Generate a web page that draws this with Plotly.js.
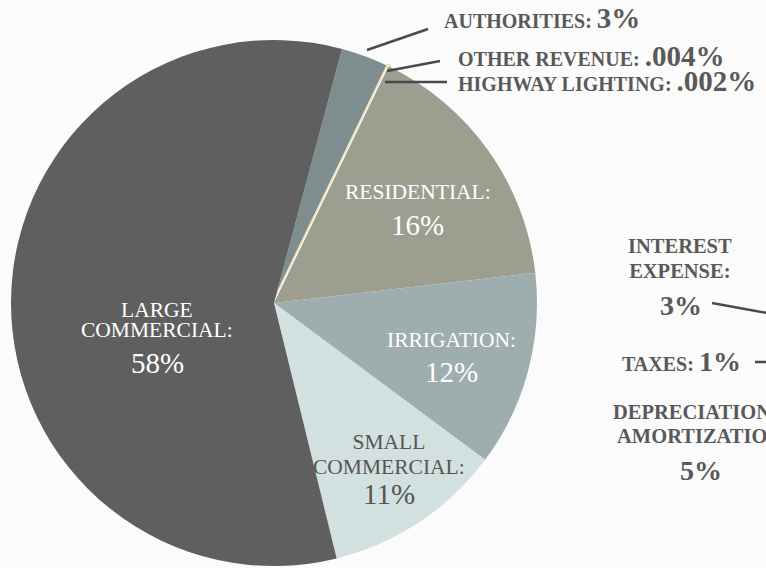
<!DOCTYPE html>
<html>
<head>
<meta charset="utf-8">
<script src="https://cdn.plot.ly/plotly-3.0.1.min.js"></script>
<style>html,body{margin:0;padding:0;background:#fbfbfb;}#chart{width:766px;height:568px;}</style>
</head>
<body>
<div id="chart"></div>
<script>
// Revenue pie (visible)
const revLabels = ["AUTHORITIES", "OTHER REVENUE", "HIGHWAY LIGHTING", "RESIDENTIAL", "IRRIGATION", "SMALL COMMERCIAL", "LARGE COMMERCIAL"];
const revValues = [3, 0.004, 0.002, 16, 12, 11, 58];
const revColors = ["#7e8e8e", "#efdcb5", "#ffffff", "#9d9e8f", "#9eadad", "#d3e0e0", "#5f5f5f"];
// Expense pie (off to the right, only labels visible)
const expLabels = ["INTEREST EXPENSE", "TAXES", "DEPRECIATION & AMORTIZATION"];
const expValues = [3, 1, 5];

const W = 766, H = 568;
const px = x => x / W;
const py = y => 1 - y / H;
const pct = v => (v >= 1 ? String(v) : String(v).replace(/^0/, "")) + "%";
const esc = s => s.replace(/&/g, "&amp;");

const FONT = "Liberation Serif, Times New Roman, serif";
const OUT = "#595959";

const annotations = [];
function ann(text, x, y, size, color, opts) {
  annotations.push(Object.assign({
    text: text, x: px(x), y: py(y), xref: "paper", yref: "paper",
    showarrow: false, xanchor: "center", yanchor: "middle",
    font: {family: FONT, size: size, color: color}
  }, opts || {}));
}
// multi-line text with custom line spacing: base font sets spacing, spans set glyph size
function annLines(lines, x, capY1, spacing, size, color, isBold, opts) {
  const base = spacing / 1.3;
  const b1 = capY1 + 0.33 * size;
  const bn = b1 + (lines.length - 1) * spacing;
  const center = ((b1 - 0.89 * size) + (bn + 0.216 * size)) / 2;
  const txt = lines.map(l => {
    const s = "<span style='font-size:" + size + "px'>" + l + "</span>";
    return isBold ? "<b>" + s + "</b>" : s;
  }).join("<br>");
  ann(txt, x, center, base, color, opts);
}

const bold = s => "<b>" + s + "</b>";
// Outside labels (revenue small slices)
ann(bold(revLabels[0] + ": <span style='font-size:29px'>" + pct(revValues[0]) + "</span>"),
    442, 18.5, 20, OUT, {xanchor: "left"});
annLines([1, 2].map(i => revLabels[i] + ": <span style='font-size:29px'>" + pct(revValues[i]) + "</span>"),
    456, 56.5, 25, 20, OUT, true, {xanchor: "left", align: "left"});

// Inside labels
function inside(i, lines, cx, capY, spacing, numY, color) {
  annLines(lines, cx, capY, spacing, 21.5, color, false);
  ann(pct(revValues[i]), cx, numY, 29, color);
}
inside(3, [revLabels[3] + ":"], 418, 192, 20, 225, "#ffffff");
inside(4, [revLabels[4] + ":"], 451, 340, 20, 372, "#ffffff");
inside(5, ["SMALL", "COMMERCIAL:"], 389, 442, 25, 494, "#555555");
inside(6, ["LARGE", "COMMERCIAL:"], 157, 310, 20.3, 363, "#ffffff");

// Expense labels (right side)
annLines(["INTEREST", "EXPENSE:"], 680, 246, 25, 20.5, OUT, true);
ann(bold(pct(expValues[0])), 681, 306, 28, OUT);
ann(bold(expLabels[1] + ": <span style='font-size:28px'>" + pct(expValues[1]) + "</span>"), 681.5, 361.5, 20, OUT);
annLines([esc("DEPRECIATION &"), "AMORTIZATION:"], 703, 412, 24, 20.5, OUT, true);
ann(bold(pct(expValues[2])), 701, 470, 28, OUT);

// Leader lines
const leaders = [[367, 50, 428, 29], [387, 71, 440, 61], [385, 82, 447, 82], [712, 303, 800, 319], [755, 362, 800, 362]];
const shapes = leaders.map(l => ({
  type: "line", xref: "paper", yref: "paper",
  x0: px(l[0]), y0: py(l[1]), x1: px(l[2]), y1: py(l[3]),
  line: {color: "#4a4a4a", width: 2.5}
}));

const lineColors = revColors.map((c, i) => i === 1 ? "#efdcb5" : (i === 2 ? "#ffffff" : c));
const lineWidths = revValues.map((v, i) => i === 1 ? 5 : (i === 2 ? 2 : 0));

const trace = {
  type: "pie",
  labels: revLabels,
  values: revValues,
  sort: false,
  direction: "clockwise",
  rotation: 15,
  textinfo: "none",
  hoverinfo: "label+percent",
  marker: {colors: revColors, line: {color: lineColors, width: lineWidths}},
  domain: {x: [px(10), px(538)], y: [py(566), py(40)]},
  showlegend: false
};

const layout = {
  width: W, height: H,
  margin: {l: 0, r: 0, t: 0, b: 0},
  paper_bgcolor: "#fbfbfb",
  showlegend: false,
  annotations: annotations,
  shapes: shapes
};

Plotly.newPlot("chart", [trace], layout, {displayModeBar: false, staticPlot: true});
</script>
</body>
</html>
